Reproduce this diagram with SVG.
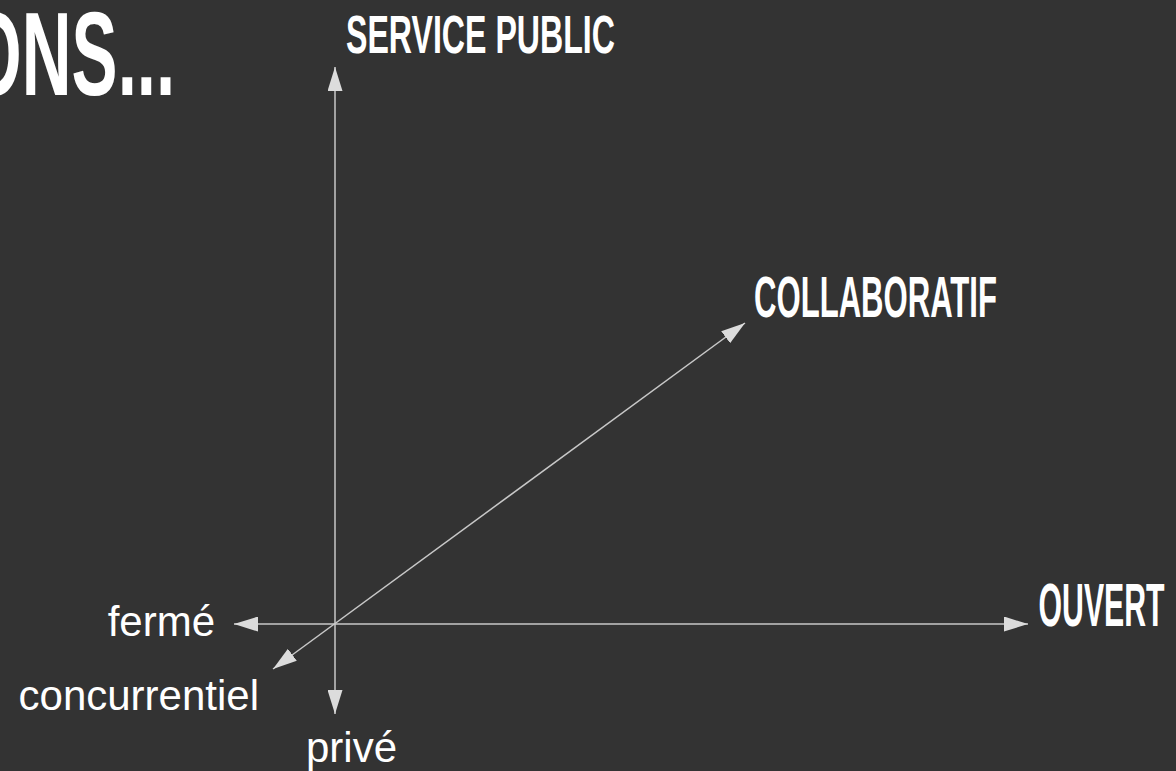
<svg xmlns="http://www.w3.org/2000/svg" width="1176" height="771" viewBox="0 0 1176 771">
<style>
.bg{fill:#333333}
.head{font-family:"Liberation Sans","DejaVu Sans",Arial,sans-serif;font-weight:bold;fill:#ffffff}
.lbl{font-family:"Liberation Sans",Arial,sans-serif;font-size:42px;fill:#ffffff}
.axis{stroke:#c8c8c8;stroke-width:1.5;fill:none}
</style>
<defs>
<marker id="arr" markerUnits="userSpaceOnUse" viewBox="0 0 24 15" markerWidth="24" markerHeight="15" refX="24" refY="7.5" orient="auto-start-reverse">
<path d="M0,0 L24,7.5 L0,15 Z" fill="#dcdcdc"/>
</marker>
</defs>
<rect class="bg" x="0" y="0" width="1176" height="771"/>
<g id="title"><text class="head" transform="scale(0.58,1)" x="-55" y="95" font-size="119" textLength="357" lengthAdjust="spacingAndGlyphs">ONS...</text></g>
<g id="connectors">
<line class="axis" x1="335" y1="714" x2="335" y2="67" marker-start="url(#arr)" marker-end="url(#arr)"/>
<line class="axis" x1="234" y1="624" x2="1028" y2="624" marker-start="url(#arr)" marker-end="url(#arr)"/>
<line class="axis" x1="273" y1="669" x2="745" y2="323" marker-start="url(#arr)" marker-end="url(#arr)"/>
</g>
<g id="service-public"><text class="head" transform="scale(0.605,1)" x="571.9" y="53" font-size="53" textLength="444.6" lengthAdjust="spacingAndGlyphs">SERVICE PUBLIC</text></g>
<g id="collaboratif"><text class="head" transform="scale(0.531,1)" x="1420" y="317" font-size="58" textLength="457.6" lengthAdjust="spacingAndGlyphs">COLLABORATIF</text></g>
<g id="ouvert"><text class="head" transform="scale(0.492,1)" x="2111" y="626" font-size="62" textLength="256" lengthAdjust="spacingAndGlyphs">OUVERT</text></g>
<g id="ferme"><text class="lbl" x="215" y="636" text-anchor="end">fermé</text></g>
<g id="concurrentiel"><text class="lbl" x="259" y="710" text-anchor="end">concurrentiel</text></g>
<g id="prive"><text class="lbl" x="306" y="762">privé</text></g>
</svg>
